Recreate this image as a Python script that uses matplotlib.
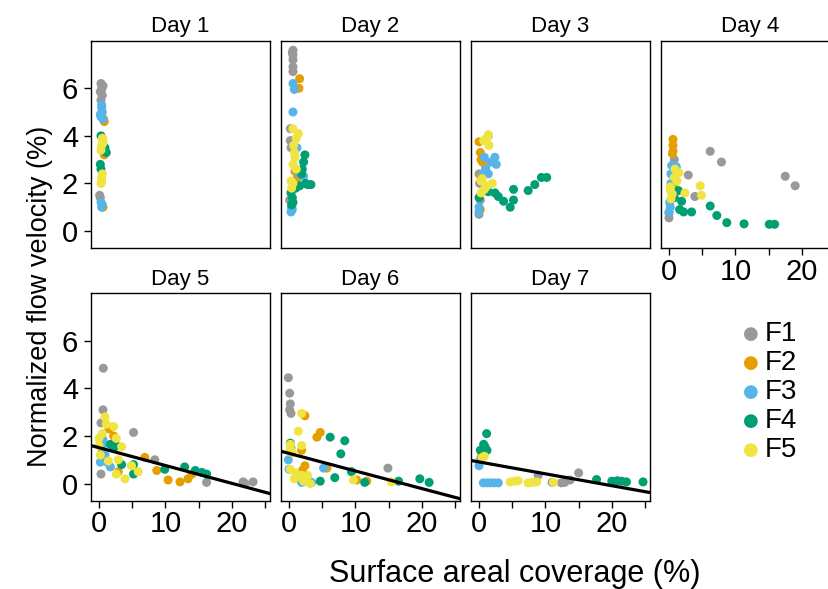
import matplotlib
matplotlib.use("Agg")
import matplotlib.pyplot as plt
import numpy as np

plt.rcParams['font.family'] = ['Liberation Sans', 'DejaVu Sans']

days = ["Day 1", "Day 2", "Day 3", "Day 4", "Day 5", "Day 6", "Day 7"]
groups = ["F1", "F2", "F3", "F4", "F5"]
colors = ["#999999", "#E69F00", "#56B4E9", "#009E73", "#F0E442"]

# (coverage %, normalized velocity %) per day and per group
day1 = {
    "F1": [(0.3, 6.2), (0.4, 6.0), (0.2, 5.85), (0.5, 5.7), (0.3, 5.5), (0.6, 6.1), (0.4, 5.95),
           (0.1, 1.5), (0.2, 1.4)],
    "F2": [(0.7, 4.7), (0.6, 1.0), (0.8, 3.2), (0.5, 3.9), (0.8, 4.6)],
    "F3": [(0.4, 5.2), (0.5, 5.0), (0.3, 4.8), (0.6, 4.7), (0.4, 5.3), (0.2, 4.9), (0.3, 1.2), (0.5, 1.1),
           (0.4, 1.0)],
    "F4": [(0.3, 4.0), (1.1, 3.3), (0.9, 3.5), (0.2, 2.8), (0.3, 2.6)],
    "F5": [(0.5, 3.9), (0.4, 3.6), (0.6, 3.7), (0.3, 3.4), (0.5, 2.4), (0.4, 2.1), (0.3, 2.0), (0.6, 3.8),
           (0.4, 2.25)],
}
day2 = {
    "F1": [(0.6, 7.6), (0.6, 7.4), (0.6, 7.2), (0.6, 6.9), (0.6, 6.7), (0.5, 7.5), (0.2, 3.8), (0.3, 3.5),
           (0.2, 4.3), (0.1, 1.3)],
    "F2": [(1.6, 6.4), (1.5, 6.0), (0.9, 2.5), (1.2, 2.2), (1.0, 2.0), (0.4, 1.0)],
    "F3": [(0.6, 6.2), (0.8, 5.95), (0.6, 5.0), (1.2, 3.5), (1.5, 2.4), (2.2, 2.3), (0.4, 1.0), (0.3, 0.8),
           (0.5, 0.9)],
    "F4": [(2.4, 3.2), (2.2, 2.9), (2.0, 2.6), (1.9, 2.4), (3.3, 1.95), (2.5, 2.0), (1.6, 1.9), (1.0, 1.8),
           (0.3, 1.6), (0.5, 1.4), (0.6, 1.2), (0.4, 1.1), (2.8, 1.95)],
    "F5": [(0.6, 4.3), (1.4, 4.1), (1.1, 3.9), (0.7, 3.6), (0.9, 3.1), (0.6, 2.8), (1.1, 2.6), (0.3, 2.1),
           (0.4, 1.8), (0.6, 2.0), (0.8, 3.3)],
}
day3 = {
    "F1": [(0.0, 2.4), (0.1, 2.0), (0.0, 0.7), (0.2, 1.3)],
    "F2": [(0.0, 3.75), (0.2, 3.3), (0.3, 3.0), (1.0, 2.7), (0.3, 2.3), (0.2, 0.9), (0.5, 2.9)],
    "F3": [(1.4, 4.0), (0.8, 3.1), (2.4, 3.1), (2.6, 2.8), (1.0, 2.6), (0.6, 2.4), (1.4, 2.4), (1.8, 2.9),
           (0.0, 1.0), (0.0, 0.8)],
    "F4": [(0.0, 1.4), (1.4, 1.65), (2.4, 1.6), (2.9, 1.45), (3.7, 1.25), (4.7, 1.0), (5.2, 1.3), (5.2, 1.75),
           (7.4, 1.7), (8.4, 1.95), (9.4, 2.25), (10.2, 2.25)],
    "F5": [(1.4, 4.05), (0.7, 3.8), (1.5, 3.6), (1.2, 3.9), (0.3, 2.1), (1.0, 1.85), (2.0, 2.0), (0.3, 1.6),
           (0.5, 2.2), (1.2, 1.9), (0.8, 1.75)],
}
day4 = {
    "F1": [(6.2, 3.35), (7.9, 2.9), (2.9, 2.35), (3.9, 1.45), (17.5, 2.3), (19.0, 1.9), (0.0, 0.55), (0.0, 0.75),
           (0.8, 3.0)],
    "F2": [(0.6, 3.85), (0.6, 3.6), (0.6, 3.35), (0.5, 3.25), (0.8, 2.0)],
    "F3": [(0.4, 2.75), (1.1, 2.7), (0.3, 2.4), (0.2, 1.0), (0.1, 1.2), (0.0, 0.8), (0.3, 2.0)],
    "F4": [(1.4, 1.7), (1.9, 1.25), (1.6, 0.9), (2.2, 0.8), (3.4, 0.8), (6.2, 1.05), (7.2, 0.65), (8.7, 0.35),
           (11.3, 0.3), (15.1, 0.28), (15.9, 0.28), (0.8, 1.4)],
    "F5": [(0.9, 2.6), (1.5, 2.45), (0.8, 2.25), (0.2, 1.85), (0.3, 1.35), (2.4, 1.6), (4.7, 1.9), (4.9, 1.5),
           (1.2, 2.1), (0.5, 1.55), (0.2, 1.7)],
}
day5 = {
    "F1": [(0.65, 4.85), (0.6, 3.1), (0.3, 2.55), (5.2, 2.15), (8.4, 1.0), (21.7, 0.07), (23.2, 0.07),
           (16.2, 0.05), (0.3, 0.4), (0.5, 1.4), (22.0, 0.0)],
    "F2": [(2.2, 2.0), (1.5, 2.3), (6.9, 1.1), (8.7, 0.55), (10.4, 0.15), (12.2, 0.07), (13.4, 0.2), (2.9, 0.5),
           (1.0, 1.0), (14.0, 0.4)],
    "F3": [(0.2, 0.9), (1.7, 0.7), (0.9, 1.2), (0.6, 1.85), (1.2, 0.9), (0.5, 1.6)],
    "F4": [(1.7, 1.65), (2.6, 1.6), (5.2, 0.8), (5.2, 0.4), (9.9, 0.6), (12.9, 0.7), (14.5, 0.55), (15.5, 0.47),
           (16.2, 0.4), (3.4, 0.8), (2.2, 1.5)],
    "F5": [(0.9, 2.8), (1.1, 2.5), (2.2, 2.4), (0.0, 1.9), (0.0, 1.6), (2.6, 1.9), (3.4, 1.55), (2.9, 1.0),
           (1.4, 0.95), (2.6, 0.4), (3.9, 0.2), (5.9, 0.5), (4.9, 0.75), (0.2, 1.2), (0.5, 2.1)],
}
day6 = {
    "F1": [(-0.1, 4.45), (0.1, 3.8), (0.2, 3.35), (0.1, 3.1), (0.3, 2.95), (14.9, 0.65)],
    "F2": [(2.4, 2.85), (4.2, 1.95), (4.7, 2.15), (1.9, 1.4), (2.4, 0.75), (5.7, 0.65), (10.2, 0.15),
           (11.7, 0.1), (2.0, 0.55)],
    "F3": [(-0.1, 1.0), (0.0, 0.6), (5.2, 0.65), (1.9, 0.05), (3.4, 0.05), (1.2, 0.4), (0.3, 1.5), (2.6, 0.1)],
    "F4": [(0.2, 1.7), (6.2, 1.95), (8.4, 1.8), (7.8, 1.25), (6.9, 0.25), (4.7, 0.1), (9.4, 0.5), (11.4, 0.05),
           (16.5, 0.1), (19.7, 0.2), (21.1, 0.05)],
    "F5": [(1.9, 2.95), (1.4, 2.2), (1.9, 1.6), (0.2, 1.65), (0.2, 1.45), (0.5, 1.3), (0.2, 0.6), (1.4, 0.3),
           (2.2, 0.1), (1.9, 0.35), (9.7, 0.15), (15.4, 0.07), (0.8, 0.2), (2.8, 0.35), (3.2, 0.0), (1.0, 0.45)],
}
day7 = {
    "F1": [(8.9, 0.35), (12.4, 0.03), (13.7, 0.15), (15.0, 0.45), (11.0, 0.05), (12.9, 0.05)],
    "F2": [(0.3, 1.1)],
    "F3": [(0.0, 0.75), (0.1, 0.95), (0.65, 0.03), (1.7, 0.03), (2.9, 0.03), (1.2, 0.03), (2.3, 0.03)],
    "F4": [(1.15, 2.1), (0.7, 1.65), (0.2, 1.4), (1.2, 1.4), (0.9, 1.55), (17.7, 0.17), (20.0, 0.1),
           (21.5, 0.1), (22.2, 0.07), (24.7, 0.07), (20.8, 0.12)],
    "F5": [(0.5, 1.1), (0.8, 1.15), (4.7, 0.07), (5.9, 0.12), (7.4, 0.03), (8.7, 0.07), (11.2, 0.05),
           (5.4, 0.1), (8.0, 0.05)],
}
day_data = [day1, day2, day3, day4, day5, day6, day7]

# fitted lines (intercept, slope) for days 5-7
fits = {4: (1.51, -0.075), 5: (1.27, -0.074), 6: (0.91, -0.050)}

xlim = (-1.25, 25.75)
ylim = (-0.72, 8.0)

fig = plt.figure(figsize=(8.29, 5.89), dpi=100)

W, H = 829.0, 589.0
col_left = [90.7, 280.7, 470.7, 660.7]
pw = 179.3
row_top = [40.7, 293.3]
ph = 207.4

for i, (title, data) in enumerate(zip(days, day_data)):
    r, c = divmod(i, 4)
    ax = fig.add_axes([col_left[c] / W, 1 - (row_top[r] + ph) / H, pw / W, ph / H])
    for g, col in zip(groups, colors):
        pts = np.array(data[g])
        ax.scatter(pts[:, 0], pts[:, 1], s=42, color=col, edgecolors='none', zorder=2)
    if i in fits:
        b0, b1 = fits[i]
        xx = np.array(xlim)
        ax.plot(xx, b0 + b1 * xx, color='black', lw=2.3, zorder=3)
    ax.set_xlim(*xlim)
    ax.set_ylim(*ylim)
    ax.set_title(title, fontsize=16, pad=6)
    for s in ax.spines.values():
        s.set_linewidth(1.0)
    ax.tick_params(direction='out', length=5, width=1, labelsize=21, pad=2)
    ax.set_yticks([0, 2, 4, 6])
    if c == 0:
        ax.tick_params(axis='y', pad=4)
    else:
        ax.tick_params(axis='y', left=False, labelleft=False)
    if r == 1 or c == 3:
        ax.set_xticks([0, 5, 10, 15, 20, 25])
        ax.set_xticklabels(['0', '', '10', '', '20', ''])
    else:
        ax.tick_params(axis='x', bottom=False, labelbottom=False)

# legend
for k, (g, col) in enumerate(zip(groups, colors)):
    yy = 1 - (334 + 29 * k) / H
    fig.text(751 / W, yy, u"\u25CF", color=col, fontsize=13, ha='center', va='center',
             family=['DejaVu Sans'])
    fig.text(765 / W, yy, g, fontsize=20, ha='left', va='center')

fig.text(515 / W, 1 - 574 / H, "Surface areal coverage (%)", fontsize=22, ha='center', va='center')
fig.text(40 / W, 1 - 296 / H, "Normalized flow velocity (%)", fontsize=19.5, ha='center', va='center',
         rotation=90)

fig.savefig("out.png", dpi=100)
